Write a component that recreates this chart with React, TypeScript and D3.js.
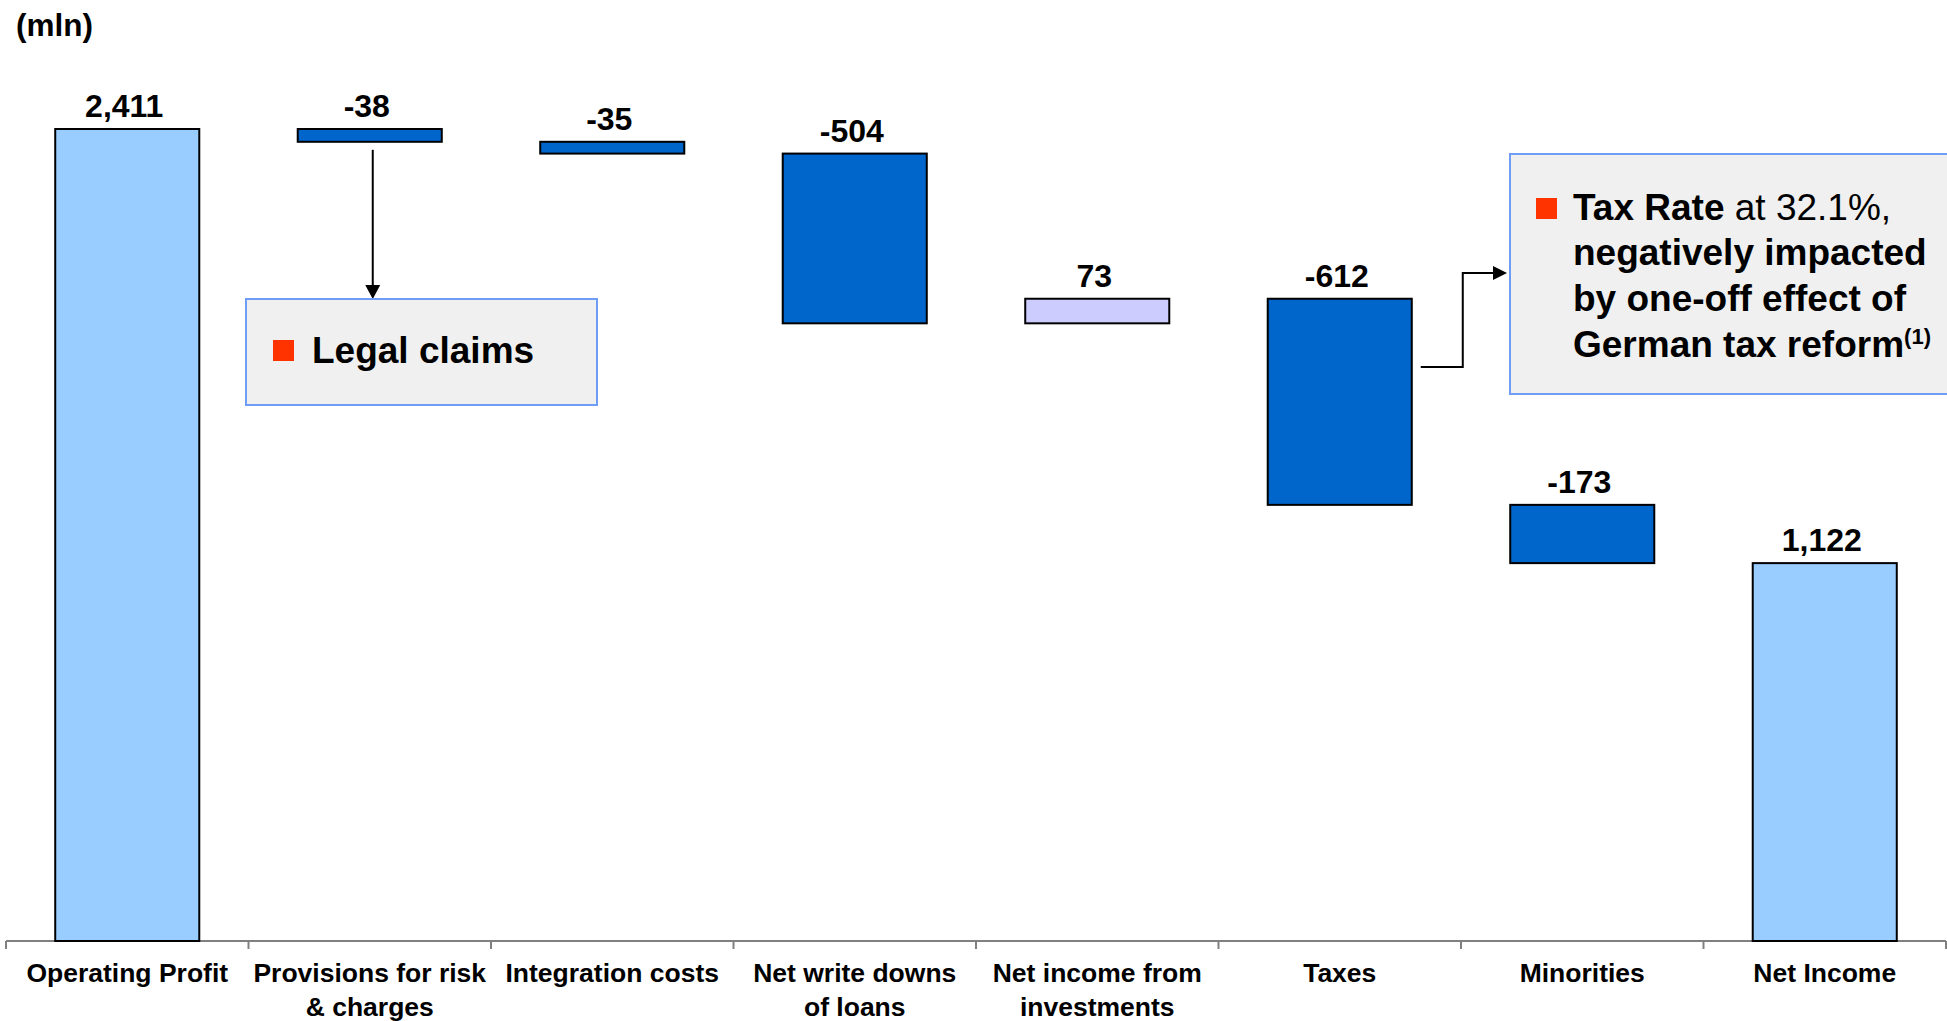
import React from "react";
import * as d3 from "d3";

const categories: string[][] = [
  ["Operating Profit"],
  ["Provisions for risk", "& charges"],
  ["Integration costs"],
  ["Net write downs", "of loans"],
  ["Net income from", "investments"],
  ["Taxes"],
  ["Minorities"],
  ["Net Income"],
];
const values: number[] = [2411, -38, -35, -504, 73, -612, -173, 1122];
const kinds: string[] = ["total", "neg", "neg", "neg", "pos", "neg", "neg", "total"];
const valueLabels: string[] = ["2,411", "-38", "-35", "-504", "73", "-612", "-173", "1,122"];

const colors: Record<string, string> = {
  total: "#99ccff",
  neg: "#0066cc",
  pos: "#ccccff",
};

const W = 1947;
const H = 1021;
const FONT = "'Liberation Sans', Arial, Helvetica, sans-serif";

export default function App() {
  const x = d3
    .scaleBand<number>()
    .domain(d3.range(categories.length))
    .range([6, 1946])
    .padding(0);
  const y = d3.scaleLinear().domain([0, 2411]).range([941, 129]);
  const bw = x.bandwidth() * 0.594;

  let running = 0;
  const bars = values.map((v, i) => {
    let lo: number, hi: number;
    if (kinds[i] === "total") {
      lo = 0;
      hi = v;
      running = v;
    } else {
      const start = running;
      const end = running + v;
      lo = Math.min(start, end);
      hi = Math.max(start, end);
      running = end;
    }
    const cx = (x(i) as number) + x.bandwidth() / 2;
    return { i, lo, hi, cx };
  });

  const axisY = y(0);
  const ticks = d3.range(categories.length + 1).map((k) => 6 + k * x.bandwidth());

  const legal = bars[1];
  const legalX = legal.cx + 3;
  const legalBox = { x: 246, y: 299, w: 351, h: 106 };

  const tax = bars[5];
  const taxStartX = tax.cx + bw / 2 + 9;
  const taxStartY = y(1704);
  const taxElbowX = taxStartX + 42;
  const taxBox = { x: 1510, y: 154, w: 520, h: 240 };
  const taxArrowY = 273;

  return (
    <svg
      width={W}
      height={H}
      style={{ position: "absolute", left: 0, top: 0, background: "#fff" }}
      fontFamily={FONT}
    >
      <rect x={0} y={0} width={W} height={H} fill="#fff" />
      <text x={16} y={36} fontSize={31.5} fontWeight="bold" fill="#000">
        (mln)
      </text>

      <line x1={6} x2={1946} y1={axisY} y2={axisY} stroke="#808080" strokeWidth={2} />
      {ticks.map((t, k) => (
        <line key={k} x1={t} x2={t} y1={axisY} y2={axisY + 8} stroke="#808080" strokeWidth={2} />
      ))}
      {categories.map((lines, i) => (
        <text
          key={i}
          x={(x(i) as number) + x.bandwidth() / 2}
          y={982}
          textAnchor="middle"
          fontSize={26.5}
          fontWeight="bold"
          fill="#000"
        >
          {lines.map((l, j) => (
            <tspan key={j} x={(x(i) as number) + x.bandwidth() / 2} dy={j === 0 ? 0 : 34}>
              {l}
            </tspan>
          ))}
        </text>
      ))}

      {bars.map((b) => (
        <g key={b.i}>
          <rect
            x={b.cx - bw / 2}
            y={y(b.hi)}
            width={bw}
            height={y(b.lo) - y(b.hi)}
            fill={colors[kinds[b.i]]}
            stroke="#000"
            strokeWidth={2}
          />
          <text
            x={b.cx - 3}
            y={y(b.hi) - 12}
            textAnchor="middle"
            fontSize={32}
            fontWeight="bold"
            fill="#000"
          >
            {valueLabels[b.i]}
          </text>
        </g>
      ))}

      <line x1={legalX} x2={legalX} y1={y(legal.lo) + 8} y2={legalBox.y - 13} stroke="#000" strokeWidth={2} />
      <path
        d={`M${legalX - 7.5},${legalBox.y - 14} L${legalX + 7.5},${legalBox.y - 14} L${legalX},${legalBox.y} Z`}
        fill="#000"
      />
      <rect
        x={legalBox.x}
        y={legalBox.y}
        width={legalBox.w}
        height={legalBox.h}
        fill="#f0f0f0"
        stroke="#6f9cf5"
        strokeWidth={2}
      />
      <rect x={273} y={340} width={21} height={21} fill="#ff3300" />
      <text x={312} y={363} fontSize={37} fontWeight="bold" fill="#000">
        Legal claims
      </text>

      <path
        d={`M${taxStartX},${taxStartY} H${taxElbowX} V${taxArrowY} H${taxBox.x - 16}`}
        fill="none"
        stroke="#000"
        strokeWidth={2}
      />
      <path
        d={`M${taxBox.x - 17},${taxArrowY - 7} L${taxBox.x - 3},${taxArrowY} L${taxBox.x - 17},${taxArrowY + 7} Z`}
        fill="#000"
      />
      <rect
        x={taxBox.x}
        y={taxBox.y}
        width={taxBox.w}
        height={taxBox.h}
        fill="#f0f0f0"
        stroke="#6f9cf5"
        strokeWidth={2}
      />
      <rect x={1536} y={198} width={21} height={21} fill="#ff3300" />
      <text x={1573} y={220} fontSize={37} fill="#000">
        <tspan fontWeight="bold">Tax Rate</tspan>
        <tspan> at 32.1%,</tspan>
      </text>
      <text x={1573} y={265} fontSize={37} fontWeight="bold" fill="#000">
        negatively impacted
      </text>
      <text x={1573} y={311} fontSize={37} fontWeight="bold" fill="#000">
        by one-off effect of
      </text>
      <text x={1573} y={357} fontSize={37} fontWeight="bold" fill="#000">
        German tax reform
        <tspan fontSize={22} dy={-13}>(1)</tspan>
      </text>
    </svg>
  );
}
